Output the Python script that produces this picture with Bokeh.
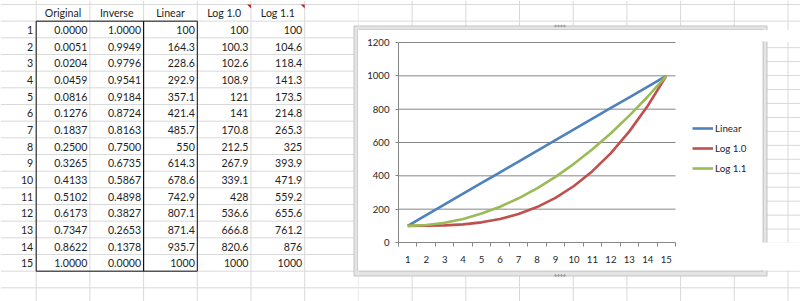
from bokeh.plotting import figure
from bokeh.layouts import row, column
from bokeh.models import Range1d, Legend, LegendItem, FixedTicker
from bokeh.core.properties import value
from bokeh.embed import file_html
from bokeh.resources import INLINE

# ---------------- data ----------------
headers = ["Original", "Inverse", "Linear", "Log 1.0", "Log 1.1"]
rows = list(range(1, 16))
original = [0.0000, 0.0051, 0.0204, 0.0459, 0.0816, 0.1276, 0.1837, 0.2500,
            0.3265, 0.4133, 0.5102, 0.6173, 0.7347, 0.8622, 1.0000]
inverse = [1.0000, 0.9949, 0.9796, 0.9541, 0.9184, 0.8724, 0.8163, 0.7500,
           0.6735, 0.5867, 0.4898, 0.3827, 0.2653, 0.1378, 0.0000]
linear = [100, 164.3, 228.6, 292.9, 357.1, 421.4, 485.7, 550, 614.3, 678.6,
          742.9, 807.1, 871.4, 935.7, 1000]
log10 = [100, 100.3, 102.6, 108.9, 121, 141, 170.8, 212.5, 267.9, 339.1,
         428, 536.6, 666.8, 820.6, 1000]
log11 = [100, 104.6, 118.4, 141.3, 173.5, 214.8, 265.3, 325, 393.9, 471.9,
         559.2, 655.6, 761.2, 876, 1000]
y_ticks = [0, 200, 400, 600, 800, 1000, 1200]

FONT = "Lato"
TXT = "#1e1e1e"
GRID = "#d9d9d9"


def general(v):
    s = f"{v:.1f}"
    return s[:-2] if s.endswith(".0") else s


# sheet geometry (page pixels): first column boundary, column width, row boundary, row height
CX0, CW = 35.7, 53.7
RY0, RH = 4.0, 16.667
N_COLS, N_ROWS = 15, 18


def sheet(pl, pr, pt, pb):
    """A piece of the worksheet covering page pixels [pl, pr] x [pt, pb]."""
    x0, x1 = (pl - CX0) / CW, (pr - CX0) / CW
    y0, y1 = (pt - RY0) / RH, (pb - RY0) / RH
    f = figure(width=pr - pl, height=pb - pt, x_range=Range1d(x0, x1),
               y_range=Range1d(y1, y0), x_axis_type=None, y_axis_type=None,
               toolbar_location=None, output_backend="svg", min_border=0,
               outline_line_color=None, background_fill_color="white",
               border_fill_color="white")
    f.grid.visible = False
    f.extra_x_ranges = {"px": Range1d(pl, pr)}
    f.extra_y_ranges = {"px": Range1d(pb, pt)}
    vc = list(range(N_COLS))
    f.segment(x0=vc, y0=[y0] * len(vc), x1=vc, y1=[y1] * len(vc),
              line_color=GRID, line_width=1)
    hr = list(range(N_ROWS))
    f.segment(x0=[x0] * len(hr), y0=hr, x1=[x1] * len(hr), y1=hr,
              line_color=GRID, line_width=1)
    # chart container frame
    f.quad(left=353.5, right=766.5, top=25.5, bottom=275.5, x_range_name="px",
           y_range_name="px", fill_color="#e4e4e4", line_color="#c4c4c4", line_width=1)
    f.quad(left=357.5, right=762.5, top=29.5, bottom=270.5, x_range_name="px",
           y_range_name="px", fill_color="white", line_color="#b8b8b8", line_width=1)
    # resize handles on the frame
    f.scatter(x=[555, 558, 561, 564] * 2, y=[25.5] * 4 + [275] * 4, x_range_name="px",
              y_range_name="px", size=1.6, color="#9a9a9a")
    return f


# ---------------- left part: worksheet with the table ----------------
left = sheet(0, 358, 0, 301)
FS = "10.6px"

left.text(x=[c + 0.5 for c in range(len(headers))], y=[0.5] * len(headers), text=headers,
          text_align="center", text_baseline="middle", y_offset=0,
          text_font=value(FONT), text_font_size=FS, text_color=TXT)

left.text(x=[0] * len(rows), y=[r + 0.5 for r in rows], text=[str(r) for r in rows],
          text_align="right", text_baseline="middle", x_offset=-3, y_offset=0.5,
          text_font=value(FONT), text_font_size=FS, text_color=TXT)

cx, cy, ct = [], [], []
for c, col in enumerate([original, inverse, linear, log10, log11]):
    for r, v in zip(rows, col):
        cx.append(c + 1)
        cy.append(r + 0.5)
        ct.append(f"{v:.4f}" if c < 2 else general(v))
left.text(x=cx, y=cy, text=ct, text_align="right", text_baseline="middle",
          x_offset=-2.5, y_offset=0.5, text_font=value(FONT), text_font_size=FS,
          text_color=TXT)

left.quad(left=[0, 2], right=[2, 3], top=[1, 1], bottom=[16, 16], fill_color=None,
          line_color="#111111", line_width=1)

left.patches(xs=[[4 - 0.075, 4, 4], [5 - 0.075, 5, 5]], ys=[[0, 0, 0.24], [0, 0, 0.24]],
             fill_color="#c8202a", line_color=None)

top_strip = sheet(358, 800, 0, 30)
bottom_strip = sheet(358, 800, 270, 301)
right_strip = sheet(762, 800, 30, 270)

# ---------------- chart ----------------
# the plot frame also spans the legend area on the right; the axes are bounded to the
# plot area proper (categories 0.5 .. 15.5, values 0 .. 1200)
X_LO, X_HI = 0.5, 15.5
chart = figure(width=404, height=240, x_range=Range1d(X_LO, 20.21), y_range=Range1d(0, 1206),
               toolbar_location=None, output_backend="svg",
               min_border_left=40, min_border_right=0, min_border_top=11,
               min_border_bottom=28, background_fill_color="white",
               border_fill_color="white", outline_line_color=None)

AX = "#868686"
chart.grid.visible = False
gl = y_ticks[1:]
chart.segment(x0=[X_LO] * len(gl), y0=gl, x1=[X_HI] * len(gl), y1=gl,
              line_color=AX, line_width=1)

xa = chart.xaxis[0]
xa.bounds = (X_LO, X_HI)
xa.ticker = FixedTicker(ticks=rows, minor_ticks=[r - 0.5 for r in rows] + [rows[-1] + 0.5])
xa.major_tick_out = 0
xa.major_tick_in = 0
xa.minor_tick_out = 4
xa.minor_tick_in = 0
xa.minor_tick_line_color = AX
xa.major_label_standoff = 9

ya = chart.yaxis[0]
ya.bounds = (y_ticks[0], y_ticks[-1])
ya.ticker = FixedTicker(ticks=y_ticks)
ya.major_tick_out = 3
ya.major_tick_in = 0
ya.minor_tick_line_color = None
ya.major_label_standoff = 6

for a in (xa, ya):
    a.axis_line_color = AX
    a.major_tick_line_color = AX
    a.major_label_text_font = FONT
    a.major_label_text_font_size = "9.6px"
    a.major_label_text_color = TXT

r1 = chart.line(rows, linear, line_color="#4F81BD", line_width=2.6, line_join="round")
r2 = chart.line(rows, log10, line_color="#C0504D", line_width=2.6, line_join="round")
r3 = chart.line(rows, log11, line_color="#9BBB59", line_width=2.6, line_join="round")

legend = Legend(items=[LegendItem(label="Linear", renderers=[r1]),
                       LegendItem(label="Log 1.0", renderers=[r2]),
                       LegendItem(label="Log 1.1", renderers=[r3])],
                location=(294, 67), glyph_width=21, glyph_height=14, label_height=14,
                spacing=6, padding=0, margin=0, label_standoff=2,
                border_line_color=None, background_fill_alpha=0,
                label_text_font=FONT, label_text_font_size="9.8px",
                label_text_color=TXT)
chart.add_layout(legend)

right_part = column(top_strip, row(chart, right_strip, spacing=0), bottom_strip, spacing=0)
root = row(left, right_part, spacing=0)

open("out.html", "w").write(file_html(root, INLINE))
